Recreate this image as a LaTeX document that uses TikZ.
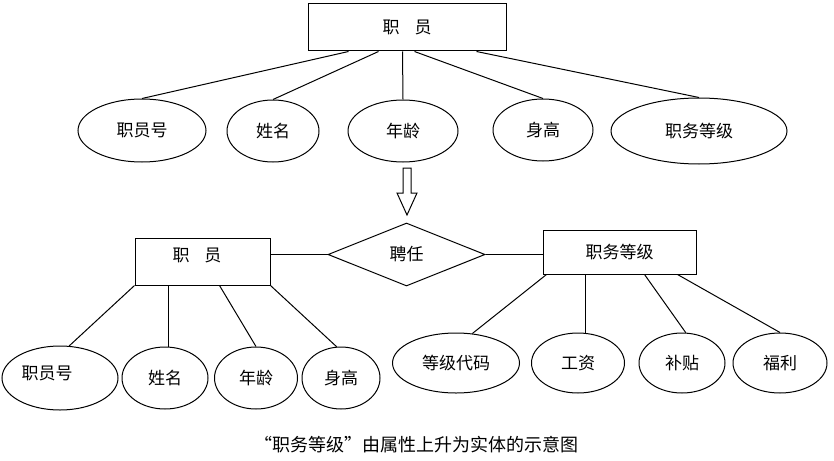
\documentclass[tikz,border=0pt]{standalone}
\usepackage{fontspec}
\setmainfont{Noto Sans CJK SC}
\usetikzlibrary{shapes.geometric,calc}
\tikzset{
  every path/.style={line width=1pt},
  boxnode/.style={draw, rectangle, inner sep=0pt, font=\fontsize{17pt}{19pt}\selectfont},
  ellnode/.style={draw, ellipse, inner sep=0pt, font=\fontsize{17pt}{19pt}\selectfont},
  relnode/.style={draw, diamond, inner sep=0pt, font=\fontsize{17pt}{19pt}\selectfont},
  txtnode/.style={inner sep=0pt, font=\fontsize{17pt}{19pt}\selectfont},
  conn/.style={draw, line width=1pt}
}
\begin{document}
\begin{tikzpicture}[x=1pt,y=-1pt]
\useasboundingbox (0,0) rectangle (834,460);
% top part
\node[boxnode, minimum width=198pt, minimum height=47pt] (tb) at (407,27.5) {职\hspace{15pt}员};
\node[ellnode, minimum width=128pt, minimum height=63pt] (t1) at (142,130.5) {职员号};
\node[ellnode, minimum width=92pt, minimum height=62pt] (t2) at (273,131) {姓名};
\node[ellnode, minimum width=110pt, minimum height=62pt] (t3) at (403,131) {年龄};
\node[ellnode, minimum width=100pt, minimum height=62pt] (t4) at (543,130) {身高};
\node[ellnode, minimum width=176pt, minimum height=66pt] (t5) at (699,131) {职务等级};
\draw[conn] ($(tb.south west)+(41,0)$) -- (t1.north);
\draw[conn] ($(tb.south west)+(71,0)$) -- (t2.north);
\draw[conn] ($(tb.south west)+(95,0)$) -- (t3.north);
\draw[conn] ($(tb.south west)+(107,0)$) -- (t4.north);
\draw[conn] ($(tb.south west)+(169,0)$) -- (t5.north);
% hollow arrow
\draw (403,168) -- (411,168) -- (411,193) -- (417,193) -- (407,215) -- (397,193) -- (403,193) -- cycle;
% bottom part
\node[boxnode, minimum width=135pt, minimum height=47pt] (lb) at (202.5,261.5) {};
\node[txtnode] (lbt) at (197,255) {职\hspace{15pt}员};
\node[relnode, minimum width=157pt, minimum height=63pt] (dia) at (406.5,254.5) {聘任};
\node[boxnode, minimum width=153pt, minimum height=44pt] (rb) at (619.5,252) {职务等级};
\draw[conn] (dia.west -| lb.east) -- (dia.west);
\draw[conn] (dia.east) -- (dia.east -| rb.west);
\node[ellnode, minimum width=116pt, minimum height=64pt,
      label={[txtnode, xshift=-13pt, yshift=5pt]center:职员号}] (l1) at (60,378) {};
\node[ellnode, minimum width=86pt, minimum height=62pt] (l2) at (165,378) {姓名};
\node[ellnode, minimum width=83pt, minimum height=62pt] (l3) at (256,378) {年龄};
\node[ellnode, minimum width=78pt, minimum height=62pt] (l4) at (341,378) {身高};
\draw[conn] (lb.south west) -- (l1.74);
\coordinate (lb2) at ($(lb.south west)+(34,0)$);
\draw[conn] (lb2) -- (lb2 |- l2.north);
\draw[conn] ($(lb.south west)+(85,0)$) -- (l3.north);
\draw[conn] (lb.south east) -- (l4.98);
\node[ellnode, minimum width=127pt, minimum height=60pt] (r1) at (456,363) {等级代码};
\node[ellnode, minimum width=93pt, minimum height=60pt] (r2) at (578,363) {工资};
\node[ellnode, minimum width=86pt, minimum height=60pt] (r3) at (682,363) {补贴};
\node[ellnode, minimum width=94pt, minimum height=60pt] (r4) at (780,363) {福利};
\draw[conn] ($(rb.south west)+(4,0)$) -- (r1.61);
\coordinate (rb2) at ($(rb.south west)+(43,0)$);
\draw[conn] (rb2) -- (rb2 |- r2.north);
\draw[conn] ($(rb.south west)+(102,0)$) -- (r3.83);
\draw[conn] ($(rb.south west)+(135,0)$) -- (r4.north);
% caption
\node[inner sep=0pt, font=\fontsize{18pt}{20pt}\selectfont] (cap) at (416,445) {“职务等级”由属性上升为实体的示意图};
\end{tikzpicture}
\end{document}
